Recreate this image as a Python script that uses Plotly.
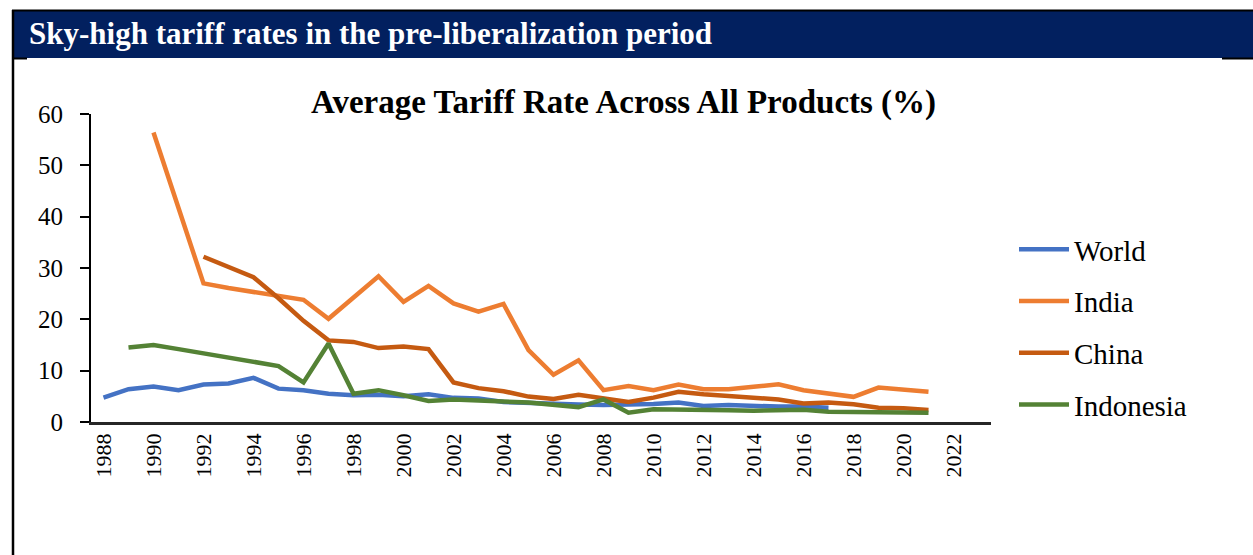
import plotly.graph_objects as go

# Average tariff rate across all products (%), by year
years = list(range(1988, 2022))

world = [4.75, 6.4, 6.9, 6.2, 7.3, 7.5, 8.6, 6.5, 6.2, 5.5,
         5.2, 5.3, 5.0, 5.4, 4.7, 4.6, 3.9, 3.7, 3.4, 3.4,
         3.3, 3.3, 3.5, 3.8, 3.1, 3.3, 3.1, 3.0, 3.0, 2.8,
         None, None, None, None]

india = [None, None, 56.4, None, 27.0, 26.1, 25.3, 24.6, 23.8, 20.1,
         24.2, 28.4, 23.4, 26.5, 23.1, 21.5, 23.0, 14.0, 9.2, 12.0,
         6.2, 7.0, 6.2, 7.3, 6.4, 6.4, 6.85, 7.35, 6.2, 5.5,
         4.9, 6.7, 6.2, 5.9]

china = [None, None, None, None, 32.2, 30.3, 28.2, 24.1, 19.7, 15.9,
         15.6, 14.4, 14.7, 14.2, 7.7, 6.6, 6.0, 4.95, 4.5, 5.3,
         4.7, 3.9, 4.75, 5.9, 5.4, 5.1, 4.75, 4.4, 3.6, 3.8,
         3.45, 2.8, 2.7, 2.35]

indonesia = [None, 14.5, 15.0, 14.2, 13.4, 12.6, 11.8, 10.9, 7.7, 15.3,
             5.5, 6.2, 5.2, 4.1, 4.4, 4.1, 4.0, 3.8, 3.4, 2.9,
             4.4, 1.8, 2.5, 2.5, 2.4, 2.3, 2.2, 2.3, 2.4, 2.0,
             2.0, 2.0, 2.0, 1.8]

series_names = ["World", "India", "China", "Indonesia"]
series_values = [world, india, china, indonesia]
series_colors = ["#4472C4", "#ED7D31", "#C55A11", "#548235"]

x_tick_years = list(range(1988, 2023, 2))
y_ticks = [0, 10, 20, 30, 40, 50, 60]

header_text = "Sky-high tariff rates in the pre-liberalization period"
chart_title = "Average Tariff Rate Across All Products (%)"

FONT = "Liberation Serif"
WIDTH, HEIGHT = 1253, 555
L, R, T, B = 91, 262, 114, 133
PW = WIDTH - L - R
PH = HEIGHT - T - B


def px_x(px):
    return (px - L) / PW


def px_y(py):
    return (HEIGHT - B - py) / PH


fig = go.Figure()
for i, (name, vals, color) in enumerate(zip(series_names, series_values, series_colors)):
    fig.add_trace(go.Scatter(
        x=years, y=vals, name=name, mode="lines",
        line=dict(color=color, width=4.5, shape="linear"),
        connectgaps=True, legendgroup=f"g{i}",
    ))

shapes = [
    # header bar
    dict(type="rect", xref="paper", yref="paper",
         x0=px_x(12), x1=px_x(1256), y0=px_y(58), y1=px_y(10),
         fillcolor="#02205F", line=dict(width=0), layer="above"),
    dict(type="line", xref="paper", yref="paper",
         x0=px_x(12), x1=px_x(1256), y0=px_y(10.5), y1=px_y(10.5),
         line=dict(color="black", width=2)),
    dict(type="line", xref="paper", yref="paper",
         x0=px_x(13), x1=px_x(13), y0=px_y(10), y1=px_y(556),
         line=dict(color="black", width=2.5)),
    dict(type="line", xref="paper", yref="paper",
         x0=px_x(12), x1=px_x(27), y0=px_y(58.5), y1=px_y(58.5),
         line=dict(color="black", width=2)),
    dict(type="line", xref="paper", yref="paper",
         x0=px_x(1222), x1=px_x(1256), y0=px_y(58.5), y1=px_y(58.5),
         line=dict(color="black", width=2)),
]

annotations = [
    dict(text=f"<b>{header_text}</b>", xref="paper", yref="paper",
         x=px_x(27), y=px_y(33), xanchor="left", yanchor="middle",
         showarrow=False, font=dict(family=FONT, size=31, color="white")),
    dict(text=f"<b>{chart_title}</b>", xref="paper", yref="paper",
         x=px_x(623), y=px_y(103), xanchor="center", yanchor="middle",
         showarrow=False, font=dict(family=FONT, size=33, color="black")),
]

fig.update_layout(
    width=WIDTH, height=HEIGHT,
    margin=dict(l=L, r=R, t=T, b=B),
    paper_bgcolor="white", plot_bgcolor="white",
    font=dict(family=FONT, color="black"),
    shapes=shapes, annotations=annotations,
    showlegend=True,
    legend=dict(
        x=px_x(1014), y=px_y(224), xanchor="left", yanchor="top",
        font=dict(family=FONT, size=29, color="black"),
        traceorder="grouped", tracegroupgap=11,
        bgcolor="rgba(0,0,0,0)", itemwidth=50,
    ),
    xaxis=dict(
        range=[1987.5, 2023.5], tickmode="array", tickvals=x_tick_years,
        ticktext=[str(y) for y in x_tick_years], tickangle=-90,
        showline=True, linecolor="#262626", linewidth=2.5,
        ticks="", showgrid=False, zeroline=False,
        tickfont=dict(family=FONT, size=22, color="black"),
    ),
    yaxis=dict(
        range=[0, 60], tickmode="array", tickvals=y_ticks,
        showline=True, linecolor="black", linewidth=2,
        ticks="outside", ticklen=9, tickwidth=2, tickcolor="black",
        ticklabelstandoff=12,
        showgrid=False, zeroline=False,
        tickfont=dict(family=FONT, size=25, color="black"),
    ),
)

fig.write_html("out.html")
